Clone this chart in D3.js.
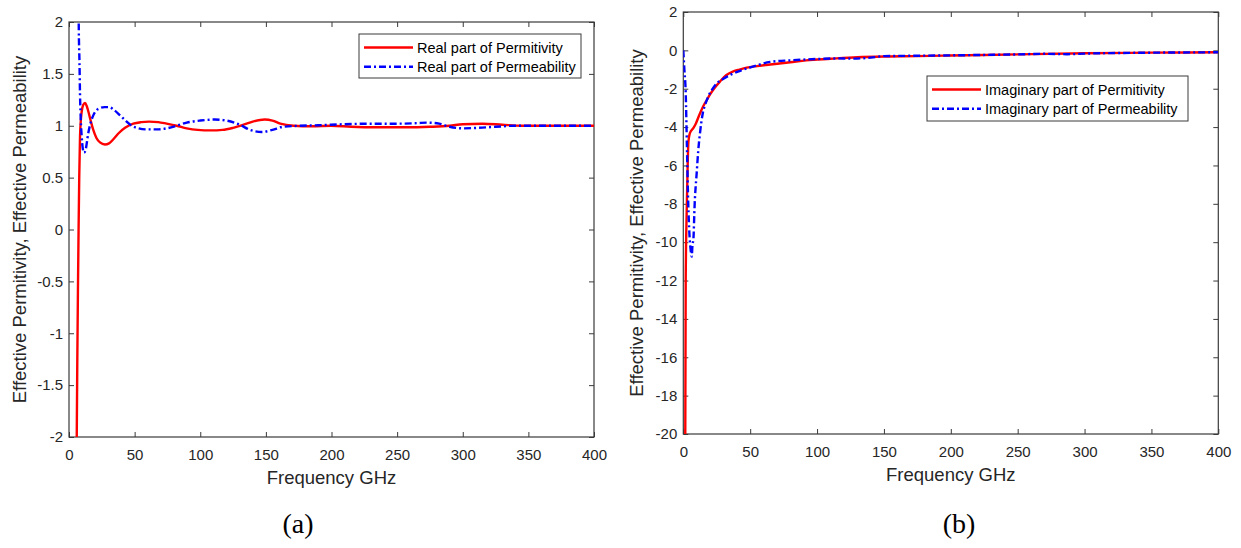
<!DOCTYPE html>
<html>
<head>
<meta charset="utf-8">
<script src="https://cdn.jsdelivr.net/npm/d3@7"></script>
<style>
  body { margin: 0; background: #fff; }
  svg { display: block; }
</style>
</head>
<body>
<div id="chart"></div>
<script>
// data: [frequency GHz, value]

var realPermitivity = [
  [5.6, -2.6], [5.9, -2.0], [6.3, -1.3], [6.8, -0.6], [7.3, 0.0], [7.8, 0.5], [8.4, 0.9],
  [9.6, 1.13], [10.8, 1.2], [12.2, 1.22], [13.5, 1.19], [14.7, 1.14], [16.5, 1.05],
  [18.5, 0.96], [21, 0.88], [23.6, 0.84], [27.4, 0.82], [30.5, 0.83], [33.8, 0.87],
  [38, 0.93], [42.7, 0.98], [49, 1.02], [55, 1.035], [61, 1.04], [68, 1.035], [74.4, 1.02],
  [82, 1.0], [89.7, 0.975], [98, 0.96], [108, 0.955], [117, 0.96], [125, 0.98], [133, 1.01],
  [140, 1.04], [149, 1.06], [155, 1.05], [161, 1.02], [171, 1.0], [185, 0.995], [200, 1.0],
  [215, 0.99], [235, 0.985], [255, 0.985], [275, 0.99], [290, 1.0], [300, 1.015],
  [315, 1.02], [330, 1.01], [345, 1.0], [370, 1.0], [400, 1.0]
];

var realPermeability = [
  [7.0, 3.0], [7.4, 2.0], [8.0, 1.6], [8.4, 1.3], [9.0, 1.05], [9.65, 0.9], [10.5, 0.78],
  [11.4, 0.74], [12.5, 0.76], [14.7, 0.93], [16.5, 1.03], [18.5, 1.1], [21, 1.15],
  [23.6, 1.17], [27, 1.18], [30.5, 1.18], [34.5, 1.15], [38.9, 1.1], [43, 1.05],
  [47.8, 1.0], [53, 0.975], [59.2, 0.965], [67, 0.965], [74.4, 0.975], [82, 1.0],
  [89.7, 1.03], [100, 1.05], [111, 1.06], [120, 1.05], [130, 1.01], [138, 0.96],
  [147, 0.94], [155, 0.96], [163, 0.99], [176, 1.0], [190, 1.005], [210, 1.015],
  [230, 1.02], [250, 1.02], [265, 1.025], [273, 1.03], [282, 1.02], [290, 0.99],
  [300, 0.975], [312, 0.98], [325, 0.99], [340, 1.0], [370, 1.0], [400, 1.0]
];

var imagPermitivity = [
  [1.4, -22], [1.8, -12], [2.5, -8.5], [3.2, -6.2], [3.8, -4.8], [5, -4.3], [7.5, -4.05],
  [9.5, -3.8], [11.2, -3.5], [13, -3.2], [15, -2.9], [17.5, -2.6], [20, -2.3],
  [23.5, -1.95], [27.4, -1.63], [32, -1.3], [37.4, -1.1], [42, -1.0], [47.4, -0.9],
  [55, -0.82], [65, -0.74], [80, -0.62], [92, -0.52], [110, -0.44], [130, -0.36],
  [150, -0.32], [175, -0.3], [200, -0.27], [250, -0.21], [300, -0.15], [350, -0.12],
  [400, -0.1]
];

var imagPermeability = [
  [0, 0], [0.8, -1], [1.8, -2.2], [2.7, -5], [3.7, -8], [4.6, -9.6], [5.5, -10.4],
  [6.3, -10.75], [6.9, -10.1], [7.5, -9.9], [8.5, -8], [10, -6.4], [11.2, -5.2],
  [12.5, -4.3], [14.5, -3.3], [16.5, -2.8], [18.7, -2.4], [21.5, -2.05], [25, -1.72],
  [30, -1.48], [35, -1.28], [43, -1.05], [52, -0.85], [65, -0.6], [80, -0.52],
  [100, -0.45], [115, -0.42], [127, -0.43], [140, -0.38], [150, -0.3], [175, -0.28],
  [200, -0.26], [250, -0.21], [270, -0.18], [287, -0.2], [300, -0.17], [350, -0.12],
  [400, -0.1]
];

var xTicks = [0, 50, 100, 150, 200, 250, 300, 350, 400];
var yTicksA = [-2, -1.5, -1, -0.5, 0, 0.5, 1, 1.5, 2];
var yTicksB = [-20, -18, -16, -14, -12, -10, -8, -6, -4, -2, 0, 2];
var legendA = ["Real part of Permitivity", "Real part of Permeability"];
var legendB = ["Imaginary part of Permitivity", "Imaginary part of Permeability"];

var w = 1241,
    h = 548,
    axisColor = "#3a3a3a",
    svg = d3.select("#chart")
            .append("svg")
            .attr("width", w)
            .attr("height", h);

// panel (a)
render_panel({
  id: "a", left: 69, right: 594, top: 22, bottom: 437,
  yDomain: [-2, 2], yTicks: yTicksA,
  red: realPermitivity, blue: realPermeability, names: legendA,
  legend: { x: 359, y: 34, w: 222, h: 44 },
  yLabelX: 26, caption: "(a)", captionX: 298
});

// panel (b)
render_panel({
  id: "b", left: 683.3, right: 1218.3, top: 12, bottom: 434,
  yDomain: [-20, 2], yTicks: yTicksB,
  red: imagPermitivity, blue: imagPermeability, names: legendB,
  legend: { x: 927, y: 76, w: 261, h: 45 },
  yLabelX: 643, caption: "(b)", captionX: 959
});

function render_panel(p) {
  var x = d3.scaleLinear().domain([0, 400]).range([p.left, p.right]),
      y = d3.scaleLinear().domain(p.yDomain).range([p.bottom, p.top]),
      fmt = function(d) { return String(d); };

  // clip the curves to the axes box
  svg.append("clipPath")
     .attr("id", "clip-" + p.id)
     .append("rect")
     .attr("x", p.left)
     .attr("y", p.top)
     .attr("width", p.right - p.left)
     .attr("height", p.bottom - p.top);

  var line = d3.line()
      .x(function(d) { return x(d[0]); })
      .y(function(d) { return y(d[1]); })
      .curve(d3.curveMonotoneX);

  // axes, ticks pointing inward
  var gx = svg.append("g")
      .attr("transform", "translate(0," + p.bottom + ")")
      .call(d3.axisBottom(x).tickValues(xTicks).tickFormat(fmt).tickSize(-5).tickSizeOuter(0).tickPadding(12));
  var gxt = svg.append("g")
      .attr("transform", "translate(0," + p.top + ")")
      .call(d3.axisTop(x).tickValues(xTicks).tickFormat("").tickSize(-5).tickSizeOuter(0));
  var gy = svg.append("g")
      .attr("transform", "translate(" + p.left + ",0)")
      .call(d3.axisLeft(y).tickValues(p.yTicks).tickFormat(fmt).tickSize(-5).tickSizeOuter(0).tickPadding(6));
  var gyr = svg.append("g")
      .attr("transform", "translate(" + p.right + ",0)")
      .call(d3.axisRight(y).tickValues(p.yTicks).tickFormat("").tickSize(-5).tickSizeOuter(0));

  [gx, gxt, gy, gyr].forEach(function(g) {
    g.select(".domain").remove();
    g.selectAll("line").attr("stroke", axisColor);
    g.selectAll("text")
     .attr("font-family", "Liberation Sans, Arial, sans-serif")
     .attr("font-size", "15px")
     .attr("fill", "#262626");
  });

  // box around the axes
  svg.append("rect")
     .attr("x", p.left)
     .attr("y", p.top)
     .attr("width", p.right - p.left)
     .attr("height", p.bottom - p.top)
     .attr("fill", "none")
     .attr("stroke", axisColor)
     .attr("stroke-width", 1.2);

  // data lines
  var g = svg.append("g").attr("clip-path", "url(#clip-" + p.id + ")");
  g.append("path")
   .datum(p.red)
   .attr("fill", "none")
   .attr("stroke", "#ff0000")
   .attr("stroke-width", 2.4)
   .attr("stroke-linejoin", "round")
   .attr("d", line);
  g.append("path")
   .datum(p.blue)
   .attr("fill", "none")
   .attr("stroke", "#0000ff")
   .attr("stroke-width", 2.4)
   .attr("stroke-dasharray", "7,3,2,3")
   .attr("stroke-linejoin", "round")
   .attr("d", line);

  // axis labels
  svg.append("text")
     .attr("x", (p.left + p.right) / 2)
     .attr("y", p.bottom + 47)
     .attr("text-anchor", "middle")
     .attr("font-family", "Liberation Sans, Arial, sans-serif")
     .attr("font-size", "18.5px")
     .attr("fill", "#262626")
     .text("Frequency GHz");
  svg.append("text")
     .attr("transform", "translate(" + p.yLabelX + "," + ((p.top + p.bottom) / 2) + ") rotate(-90)")
     .attr("text-anchor", "middle")
     .attr("font-family", "Liberation Sans, Arial, sans-serif")
     .attr("font-size", "18.5px")
     .attr("fill", "#262626")
     .text("Effective Permitivity, Effective Permeability");

  // legend
  var L = p.legend;
  var lg = svg.append("g");
  lg.append("rect")
    .attr("x", L.x)
    .attr("y", L.y)
    .attr("width", L.w)
    .attr("height", L.h)
    .attr("fill", "#fff")
    .attr("stroke", axisColor)
    .attr("stroke-width", 1);
  [["#ff0000", null], ["#0000ff", "7,3,2,3"]].forEach(function(s, i) {
    var ly = L.y + 13.5 + i * 19.3;
    lg.append("line")
      .attr("x1", L.x + 5)
      .attr("x2", L.x + 54)
      .attr("y1", ly)
      .attr("y2", ly)
      .attr("stroke", s[0])
      .attr("stroke-width", 2.4)
      .attr("stroke-dasharray", s[1]);
    lg.append("text")
      .attr("x", L.x + 58)
      .attr("y", ly + 5)
      .attr("font-family", "Liberation Sans, Arial, sans-serif")
      .attr("font-size", "14.5px")
      .attr("fill", "#000")
      .text(p.names[i]);
  });

  // caption under the panel
  svg.append("text")
     .attr("x", p.captionX)
     .attr("y", 533)
     .attr("text-anchor", "middle")
     .attr("font-family", "Liberation Serif, Times New Roman, serif")
     .attr("font-size", "28px")
     .attr("fill", "#000")
     .text(p.caption);
}
</script>
</body>
</html>
